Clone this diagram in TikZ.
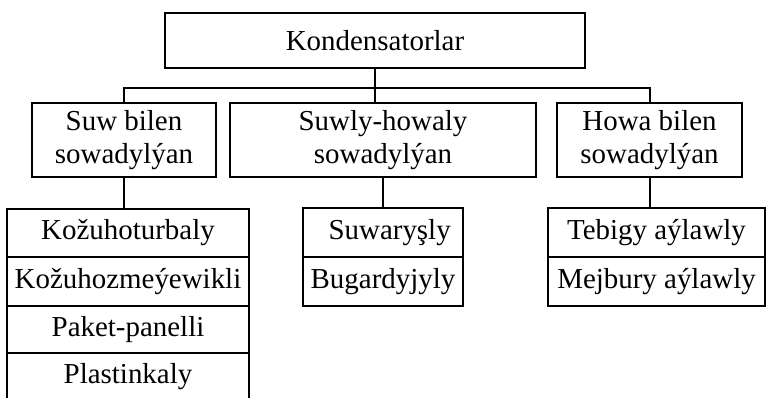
\documentclass[tikz,border=0pt]{standalone}
\usepackage{fontspec}
\setmainfont{Liberation Serif}
\begin{document}
\begin{tikzpicture}[x=0.75pt,y=-0.75pt,
  box/.style={draw, line width=1.5pt, inner sep=0pt, align=center,
    font=\fontsize{21.7}{24.75}\selectfont},
  conn/.style={line width=1.5pt}]
\useasboundingbox (0,0) rectangle (766,398);
\clip (0,0) rectangle (766,398);
% top
\node[box, minimum width=315pt, minimum height=41.25pt] (top) at (375,40.5) {Kondensatorlar};
% second row
\node[box, minimum width=138pt, minimum height=55.5pt] (L) at (124,140) {Suw bilen\\sowadylýan};
\node[box, minimum width=229.5pt, minimum height=55.5pt] (M) at (383,140) {Suwly-howaly\\sowadylýan};
\node[box, minimum width=138.75pt, minimum height=55.5pt] (R) at (649.5,140) {Howa bilen\\sowadylýan};
% left column
\node[box, minimum width=181.5pt, minimum height=36pt] (k1) at (128,233) {Kožuhoturbaly};
\node[box, minimum width=181.5pt, minimum height=36.75pt] (k2) at (128,281.5) {Kožuhozmeýewikli};
\node[box, minimum width=181.5pt, minimum height=35.25pt] (k3) at (128,329.5) {Paket-panelli};
\node[box, minimum width=181.5pt, minimum height=36pt] (k4) at (128,377) {Plastinkaly};
% middle column
\node[box, minimum width=120pt, minimum height=36.75pt] (m1) at (383,232.5) {\hspace*{10pt}Suwaryşly};
\node[box, minimum width=120pt, minimum height=36.75pt] (m2) at (383,281.5) {Bugardyjyly};
% right column
\node[box, minimum width=162.75pt, minimum height=36.75pt] (r1) at (656.5,232.5) {Tebigy aýlawly};
\node[box, minimum width=162.75pt, minimum height=36.75pt] (r2) at (656.5,281.5) {Mejbury aýlawly};
% connectors
\coordinate (bus) at (0,88);
\draw[conn] (top.south) -- (top.south |- M.north);
\draw[conn] (L.north) -- (L.north |- bus) -- (R.north |- bus) -- (R.north);
\draw[conn] (L.south) -- (L.south |- k1.north);
\draw[conn] (M.south) -- (M.south |- m1.north);
\draw[conn] (R.south) -- (R.south |- r1.north);
\end{tikzpicture}
\end{document}
